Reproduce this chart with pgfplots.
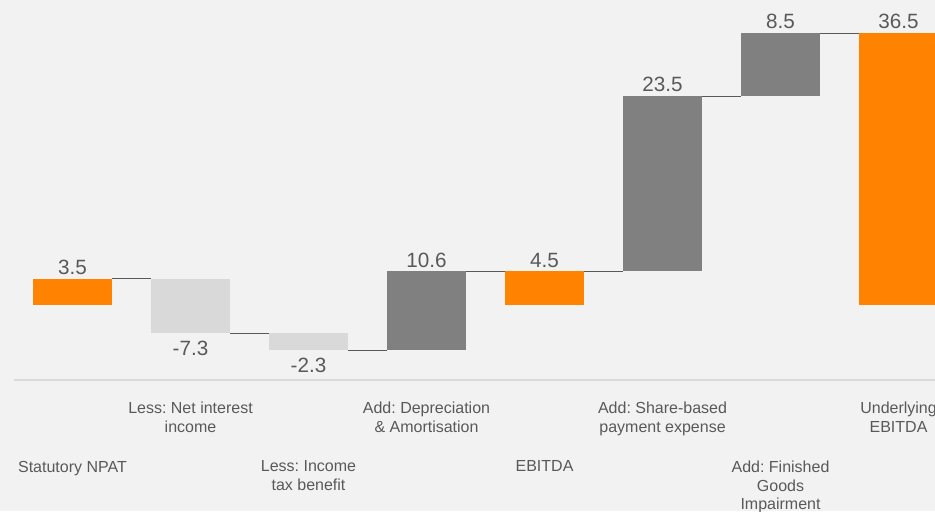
\documentclass[border=0pt]{standalone}
\usepackage{pgfplots}
\pgfplotsset{compat=1.18}
\usepackage{fontspec}
\setmainfont{Liberation Sans}
\usetikzlibrary{backgrounds}
\definecolor{bg}{HTML}{F2F2F2}
\definecolor{orng}{HTML}{FF8300}
\definecolor{dgray}{HTML}{808080}
\definecolor{lgray}{HTML}{D9D9D9}
\definecolor{txt}{HTML}{595959}
\definecolor{axl}{HTML}{D9D9D9}
\frenchspacing
\begin{document}
\frenchspacing
\begin{tikzpicture}
\begin{axis}[
  scale only axis, width=691.1pt, height=285pt,
  xmin=-0.5, xmax=7.309, ymin=-10.07, ymax=40.94,
  axis y line=none, axis x line*=bottom,
  x axis line style={axl, line width=1.5pt, -},
  xtick={1,3,5,7},
  xticklabels={{Less: Net interest\\income},{Add: Depreciation\\\& Amortisation},{Add: Share-based\\payment expense},{Underlying\\EBITDA}},
  extra x ticks={0,2,4,6},
  extra x tick labels={{Statutory NPAT},{Less: Income\\tax benefit},{EBITDA},{Add: Finished\\Goods\\Impairment}},
  extra x tick style={xticklabel style={yshift=-44pt}},
  major tick length=0pt,
  xticklabel style={anchor=north, inner sep=0pt, yshift=-16.5pt, align=center, text=txt, font=\fontsize{12}{14}\selectfont\frenchspacing},
  every node near coord/.style={font=\fontsize{15.5}{18}\selectfont, text=txt, inner sep=0pt},
]
% floating bars: (left,bottom) (right,bottom) (right,top) (left,top)
% Statutory NPAT 3.5
\addplot[draw=none, fill=orng] coordinates {(-0.335,0) (0.335,0) (0.335,3.5) (-0.335,3.5)} -- cycle;
% Less: Net interest income -7.3 (3.5 -> -3.8)
\addplot[draw=none, fill=lgray] coordinates {(0.665,-3.8) (1.335,-3.8) (1.335,3.5) (0.665,3.5)} -- cycle;
% Less: Income tax benefit -2.3 (-3.8 -> -6.1)
\addplot[draw=none, fill=lgray] coordinates {(1.665,-6.1) (2.335,-6.1) (2.335,-3.8) (1.665,-3.8)} -- cycle;
% Add: D&A 10.6 (-6.1 -> 4.5)
\addplot[draw=none, fill=dgray] coordinates {(2.665,-6.1) (3.335,-6.1) (3.335,4.5) (2.665,4.5)} -- cycle;
% EBITDA 4.5
\addplot[draw=none, fill=orng] coordinates {(3.665,0) (4.335,0) (4.335,4.5) (3.665,4.5)} -- cycle;
% Add: Share-based payment 23.5 (4.5 -> 28)
\addplot[draw=none, fill=dgray] coordinates {(4.665,4.5) (5.335,4.5) (5.335,28) (4.665,28)} -- cycle;
% Add: Finished goods impairment 8.5 (28 -> 36.5)
\addplot[draw=none, fill=dgray] coordinates {(5.665,28) (6.335,28) (6.335,36.5) (5.665,36.5)} -- cycle;
% Underlying EBITDA 36.5
\addplot[draw=none, fill=orng] coordinates {(6.665,0) (7.335,0) (7.335,36.5) (6.665,36.5)} -- cycle;
% connectors
\addplot[mark=none, draw=txt, line width=0.75pt] coordinates {(0.335,3.5) (0.665,3.5)};
\addplot[mark=none, draw=txt, line width=0.75pt] coordinates {(1.335,-3.8) (1.665,-3.8)};
\addplot[mark=none, draw=txt, line width=0.75pt] coordinates {(2.335,-6.1) (2.665,-6.1)};
\addplot[mark=none, draw=txt, line width=0.75pt] coordinates {(3.335,4.5) (3.665,4.5)};
\addplot[mark=none, draw=txt, line width=0.75pt] coordinates {(4.335,4.5) (4.665,4.5)};
\addplot[mark=none, draw=txt, line width=0.75pt] coordinates {(5.335,28) (5.665,28)};
\addplot[mark=none, draw=txt, line width=0.75pt] coordinates {(6.335,36.5) (6.665,36.5)};
% value labels above
\addplot[only marks, mark=none, point meta=explicit symbolic,
  nodes near coords, nodes near coords style={anchor=south, yshift=3pt}]
  table[meta=l] {
x y l
0 3.5 3.5
3 4.5 10.6
4 4.5 4.5
5 28 23.5
6 36.5 8.5
7 36.5 36.5
};
% value labels below
\addplot[only marks, mark=none, point meta=explicit symbolic,
  nodes near coords, nodes near coords style={anchor=north, yshift=-5.5pt}]
  table[meta=l] {
x y l
1 -3.8 -7.3
2 -6.1 -2.3
};
\coordinate (bbsw) at (rel axis cs:0,0);
\coordinate (bbne) at (rel axis cs:1,1);
\end{axis}
\begin{pgfonlayer}{background}
\fill[bg] ([xshift=-10.125pt,yshift=-98.25pt]bbsw) rectangle (bbne);
\end{pgfonlayer}
\pgfresetboundingbox
\useasboundingbox ([xshift=-10.125pt,yshift=-98.25pt]bbsw) rectangle (bbne);
\end{tikzpicture}
\end{document}
